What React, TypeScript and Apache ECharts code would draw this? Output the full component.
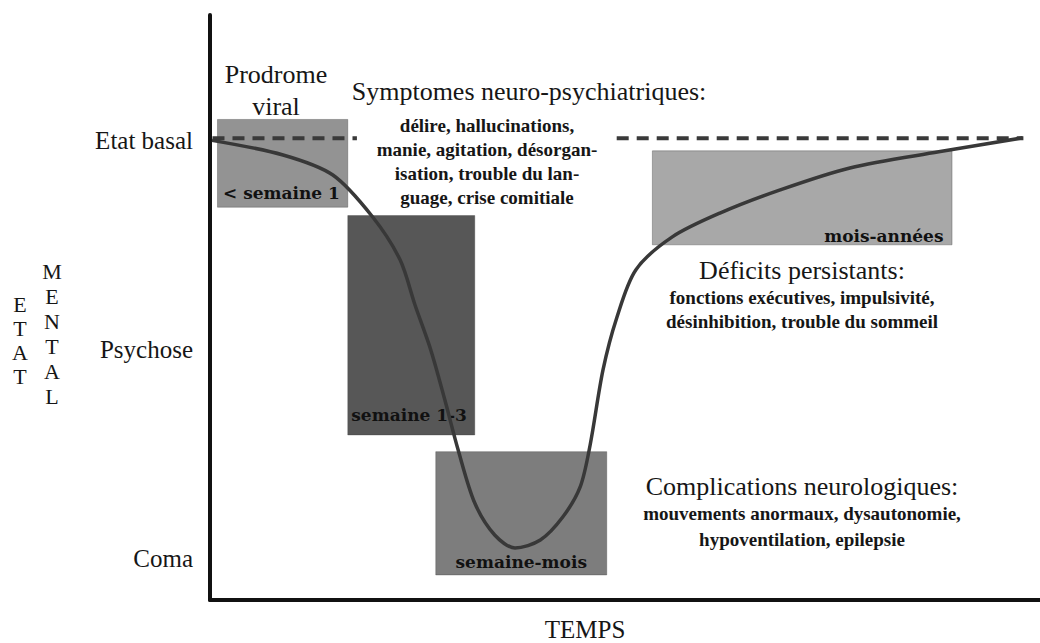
import React, { useEffect, useRef } from "react";
import * as echarts from "echarts";

// Y levels (mental state)
const levelValues = [1, 2, 3];
const levelLabels = ["Coma", "Psychose", "Etat basal"];

// Mental state curve over time (arbitrary time units 0-100)
const curveX = [0.24, 8.8, 14.8, 19.6, 22.9, 24.7, 26.6, 28.3, 29.9, 31.9, 34.3, 36.75, 39.8, 42.5, 44.6, 45.8, 47.35, 49.0, 51.3, 55.7, 61.5, 68.7, 77.1, 87.8, 97.9];
const curveY = [3.0, 2.93, 2.834, 2.633, 2.428, 2.212, 1.997, 1.757, 1.518, 1.264, 1.111, 1.049, 1.087, 1.197, 1.341, 1.542, 1.901, 2.15, 2.38, 2.538, 2.653, 2.763, 2.868, 2.945, 3.012];

// Baseline dashed segments
const baselineLevel = 3.01;
const baselineStart = [0.3, 49];
const baselineEnd = [17.7, 98];

// Phase boxes
const phaseLabels = ["< semaine 1", "semaine 1-3", "semaine-mois", "mois-années"];
const phaseXStart = [0.9, 16.6, 27.2, 53.3];
const phaseXEnd = [16.6, 31.9, 47.8, 89.4];
const phaseYLow = [2.68, 1.59, 0.92, 2.5];
const phaseYHigh = [3.1, 2.64, 1.51, 2.95];
const phaseColors = ["#939393", "#575757", "#7d7d7d", "#a8a8a8"];
const phaseLabelPos = ["insideBottomLeft", "insideBottomLeft", "insideBottom", "insideBottomRight"];
const phaseLabelDist = [6, 4, 5, 9];
const phaseLabelOffset = [[0, 0], [0, -8], [0, 0], [0, 8]];

const SERIF = "Liberation Serif, Times New Roman, serif";
const WIDE = "DejaVu Serif, serif";
const INK = "#161616";

export default function App() {
  const ref = useRef<HTMLDivElement>(null);
  useEffect(() => {
    if (!ref.current) return;
    const chart = echarts.init(ref.current, null, { renderer: "svg" });

    const areas = phaseLabels.map((name, i) => [
      {
        name,
        xAxis: phaseXStart[i],
        yAxis: phaseYHigh[i],
        itemStyle: { color: phaseColors[i], borderColor: "rgba(60,60,60,0.35)", borderWidth: 1 },
        label: {
          show: true,
          position: phaseLabelPos[i],
          distance: phaseLabelDist[i],
          offset: phaseLabelOffset[i],
          color: "#111",
          fontFamily: WIDE,
          fontWeight: "bold",
          fontSize: 17,
        },
      },
      { xAxis: phaseXEnd[i], yAxis: phaseYLow[i] },
    ]);

    const bigText = (text: string, x: number, y: number, size = 25) => ({
      type: "text",
      x,
      y,
      style: {
        text,
        fill: INK,
        fontFamily: SERIF,
        fontSize: size,
        textAlign: "center",
        textVerticalAlign: "middle",
      },
    });
    const smallText = (text: string, x: number, y: number, lh: number) => ({
      type: "text",
      x,
      y,
      style: {
        text,
        fill: INK,
        fontFamily: SERIF,
        fontWeight: "bold",
        fontSize: 19,
        textAlign: "center",
        textVerticalAlign: "top",
        lineHeight: lh,
      },
    });

    chart.setOption({
      animation: false,
      backgroundColor: "#ffffff",
      grid: { left: 210, right: 0, top: 15, bottom: 43 },
      xAxis: {
        type: "value",
        min: 0,
        max: 100,
        axisLine: { show: true, lineStyle: { color: "#111", width: 4 } },
        axisTick: { show: false },
        axisLabel: { show: false },
        splitLine: { show: false },
      },
      yAxis: {
        type: "value",
        min: 0.8,
        max: 3.6,
        axisLine: { show: true, lineStyle: { color: "#111", width: 4 } },
        axisTick: { show: false },
        splitLine: { show: false },
        axisLabel: {
          customValues: levelValues,
          formatter: (v: number) => levelLabels[levelValues.indexOf(Math.round(v))] ?? "",
          color: INK,
          fontFamily: SERIF,
          fontSize: 25,
          margin: 17,
        },
      },
      series: [
        {
          type: "line",
          name: "phases",
          data: [],
          markArea: { silent: true, data: areas },
          z: 1,
        },
        ...baselineStart.map((s, i) => ({
          type: "line",
          name: "baseline" + i,
          data: [
            [s, baselineLevel],
            [baselineEnd[i], baselineLevel],
          ],
          symbol: "none",
          lineStyle: { color: "#3a3a3a", width: 4, type: [12, 8] },
          z: 2,
        })),
        {
          type: "line",
          name: "etat",
          data: curveX.map((x, i) => [x, curveY[i]]),
          symbol: "none",
          smooth: 0.3,
          lineStyle: { color: "#383838", width: 3.5 },
          z: 3,
        },
      ],
      graphic: [
        bigText("Prodrome", 276, 74, 26),
        bigText("viral", 276, 106, 26),
        bigText("Symptomes neuro-psychiatriques:", 529, 91, 26),
        smallText("délire, hallucinations,\nmanie, agitation, désorgan-\nisation, trouble du lan-\nguage, crise comitiale", 487, 113, 24),
        bigText("Déficits persistants:", 802, 270, 26),
        smallText("fonctions exécutives, impulsivité,\ndésinhibition, trouble du sommeil", 802, 285, 24),
        bigText("Complications neurologiques:", 802, 486, 26),
        smallText("mouvements anormaux, dysautonomie,\nhypoventilation, epilepsie", 802, 500, 26),
        bigText("TEMPS", 585, 629, 25),
        {
          type: "text",
          x: 20,
          y: 340,
          style: {
            text: "E\nT\nA\nT",
            fill: INK,
            fontFamily: SERIF,
            fontSize: 22,
            textAlign: "center",
            textVerticalAlign: "middle",
            lineHeight: 24,
          },
        },
        {
          type: "text",
          x: 52,
          y: 334,
          style: {
            text: "M\nE\nN\nT\nA\nL",
            fill: INK,
            fontFamily: SERIF,
            fontSize: 22,
            textAlign: "center",
            textVerticalAlign: "middle",
            lineHeight: 25,
          },
        },
      ],
    });
    return () => chart.dispose();
  }, []);
  return (
    <div
      ref={ref}
      style={{ position: "fixed", left: 0, top: 0, width: 1040, height: 643, background: "#fff" }}
    />
  );
}
